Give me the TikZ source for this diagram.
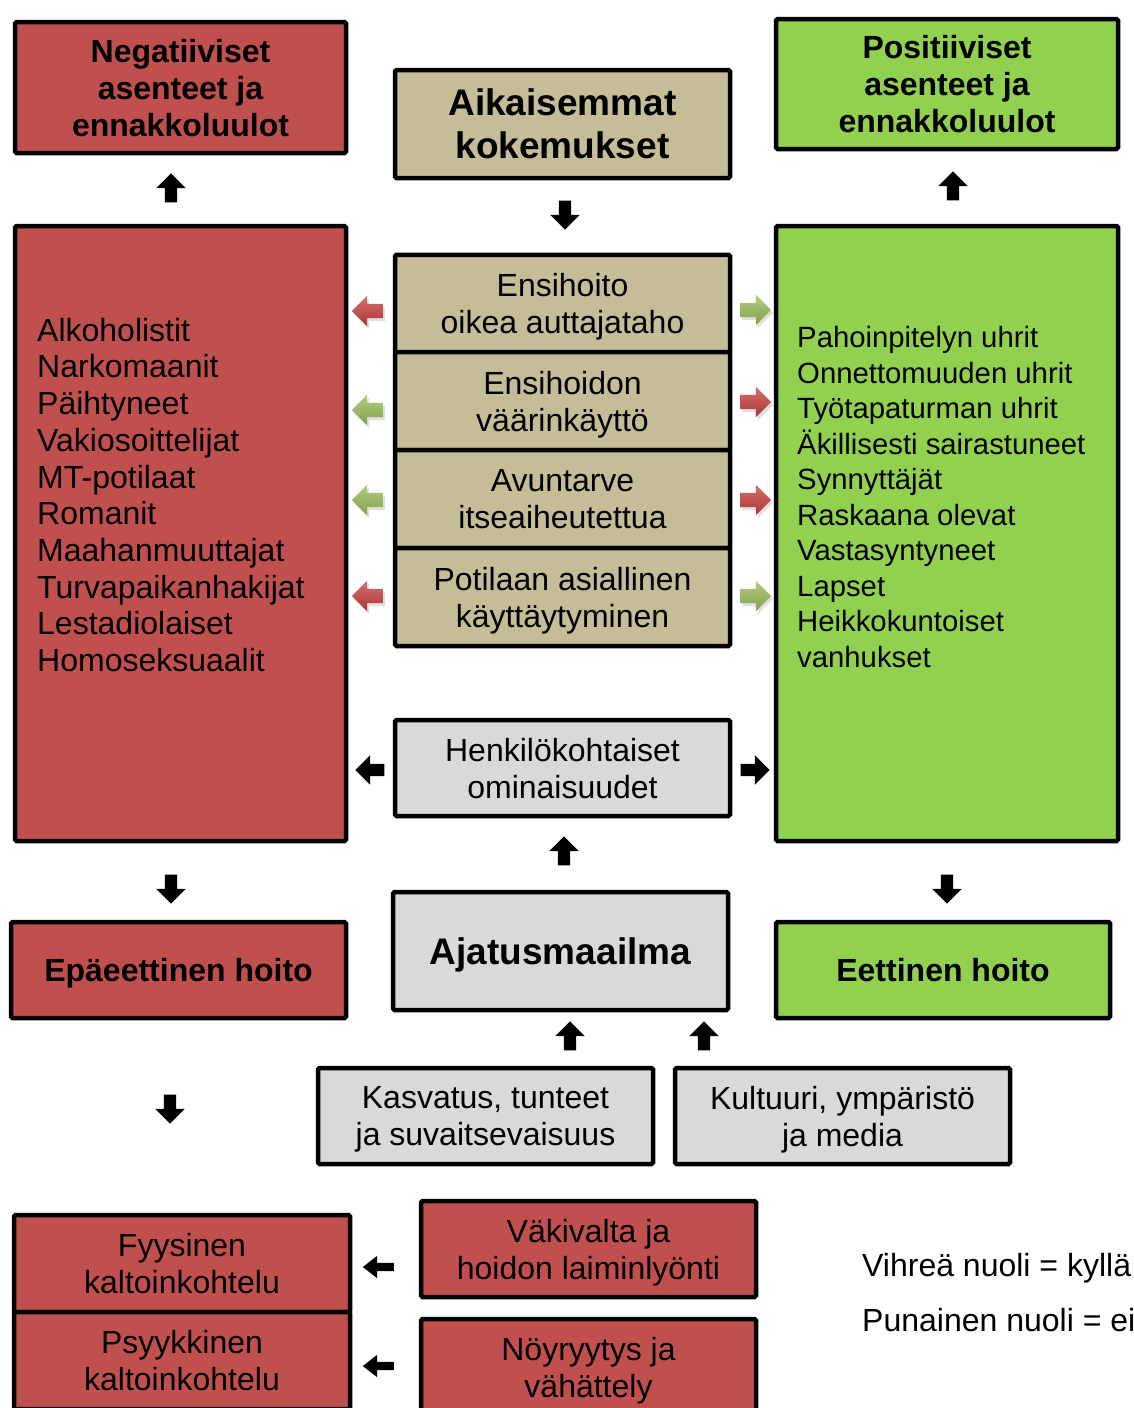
\documentclass[tikz,border=0pt]{standalone}
\usepackage{fontspec}
\setmainfont{Liberation Sans}
\usetikzlibrary{shapes.arrows,shadows}
\definecolor{punainen}{HTML}{C0504D}
\definecolor{vihrea}{HTML}{92D050}
\definecolor{beige}{HTML}{C4BD97}
\definecolor{harmaa}{HTML}{D9D9D9}
\definecolor{arrpun}{HTML}{C8403C}
\definecolor{arrvih}{HTML}{9BBB59}
\begin{document}
\begin{tikzpicture}[x=1pt, y=-1pt,
	box/.style={draw=black, line width=4.5pt, rounded corners=1.5pt, inner sep=0pt,
		align=center, text depth=0pt, font=\fontsize{32}{37}\selectfont},
	otsikko/.style={box, font=\bfseries\fontsize{32}{37}\selectfont},
	iso/.style={box, font=\bfseries\fontsize{37}{43}\selectfont},
	lista/.style={inner sep=0pt, align=left, anchor=west},
	blk/.style={single arrow, fill=black, inner sep=6pt, minimum height=29pt,
		single arrow head extend=8.5pt},
	pieni/.style={blk, inner sep=4pt, minimum height=31pt,
		single arrow head extend=7pt, single arrow tip angle=76},
	col/.style={single arrow, inner sep=7pt, minimum height=31pt,
		single arrow head extend=8pt, top color=#1!75!white, bottom color=#1!85!black,
		drop shadow={opacity=0.25, shadow xshift=2pt, shadow yshift=-3pt}}]
	\useasboundingbox (0, 0) rectangle (1133, 1408);
	\clip (0, 0) rectangle (1133, 1408);

	\node[otsikko, fill=punainen, minimum width=331pt, minimum height=131pt] (neg) at (180.5, 87.5)
	{Negatiiviset\\asenteet ja\\ennakkoluulot};
	\node[iso, fill=beige, minimum width=335pt, minimum height=108pt] (aik) at (562.5, 124)
	{Aikaisemmat\\kokemukset};
	\node[otsikko, fill=vihrea, minimum width=342pt, minimum height=130pt] (pos) at (947, 84)
	{Positiiviset\\asenteet ja\\ennakkoluulot};

	\node[box, fill=punainen, minimum width=331pt, minimum height=615pt] (vas) at (180.5, 533.5) {};
	\node[box, fill=vihrea, minimum width=342pt, minimum height=615pt] (oik) at (947, 533.5) {};
	\node[lista, font=\fontsize{32}{36.7}\selectfont] (vaslista) at (37, 495)
	{Alkoholistit\\Narkomaanit\\Päihtyneet\\Vakiosoittelijat\\MT-potilaat\\Romanit\\
		Maahanmuuttajat\\Turvapaikanhakijat\\Lestadiolaiset\\Homoseksuaalit};
	\node[lista, font=\fontsize{29.3}{35.5}\selectfont] (oiklista) at (797, 497)
	{Pahoinpitelyn uhrit\\Onnettomuuden uhrit\\Työtapaturman uhrit\\Äkillisesti sairastuneet\\
		Synnyttäjät\\Raskaana olevat\\Vastasyntyneet\\Lapset\\Heikkokuntoiset\\vanhukset};

	\node[box, fill=beige, minimum width=335pt, minimum height=97.5pt] (k1) at (562.5, 303.5)
	{Ensihoito\\oikea auttajataho};
	\node[box, fill=beige, minimum width=335pt, minimum height=98pt] (k2) at (562.5, 401)
	{Ensihoidon\\väärinkäyttö};
	\node[box, fill=beige, minimum width=335pt, minimum height=98pt] (k3) at (562.5, 499)
	{Avuntarve\\itseaiheutettua};
	\node[box, fill=beige, minimum width=335pt, minimum height=98pt] (k4) at (562.5, 597)
	{Potilaan asiallinen\\käyttäytyminen};

	\node[box, fill=harmaa, minimum width=335pt, minimum height=96pt] (henk) at (562.5, 768)
	{Henkilökohtaiset\\ominaisuudet};
	\node[otsikko, fill=punainen, minimum width=335pt, minimum height=96pt] (epa) at (178.5, 970)
	{Epäeettinen hoito};
	\node[iso, fill=harmaa, minimum width=335pt, minimum height=118pt] (ajat) at (560.5, 951)
	{Ajatusmaailma};
	\node[otsikko, fill=vihrea, minimum width=334pt, minimum height=96pt] (eet) at (943, 970)
	{Eettinen hoito};
	\node[box, fill=harmaa, minimum width=335pt, minimum height=96pt] (kasv) at (485.5, 1116)
	{Kasvatus, tunteet\\ja suvaitsevaisuus};
	\node[box, fill=harmaa, minimum width=335pt, minimum height=96pt] (kult) at (842.5, 1116)
	{Kultuuri, ympäristö\\ja media};

	\node[box, fill=punainen, minimum width=336pt, minimum height=97pt] (fyys) at (182, 1263.5)
	{Fyysinen\\kaltoinkohtelu};
	\node[box, fill=punainen, minimum width=336pt, minimum height=97pt] (psyk) at (182, 1360.5)
	{Psyykkinen\\kaltoinkohtelu};
	\node[box, fill=punainen, minimum width=335pt, minimum height=96pt] (vak) at (588.5, 1249)
	{Väkivalta ja\\hoidon laiminlyönti};
	\node[box, fill=punainen, minimum width=335pt, minimum height=96pt] (noy) at (588.5, 1367)
	{Nöyryytys ja\\vähättely};

	\foreach \x/\y [count=\i] in {171/191, 953/189, 564/854, 570/1039, 704/1039}
	\node[blk, shape border rotate=90] (ylos\i) at (\x, \y) {};
	\foreach \x/\y [count=\i] in {565/212, 171/886, 947/886, 170/1106}
	\node[blk, shape border rotate=270] (alas\i) at (\x, \y) {};
	\node[blk, shape border rotate=180] (vasen) at (373, 770) {};
	\node[blk] (oikea) at (752, 770) {};
	\node[pieni, shape border rotate=180] (fnuoli) at (381, 1267) {};
	\node[pieni, shape border rotate=180] (pnuoli) at (381, 1366) {};

	\foreach \y/\c [count=\i] in {311/arrpun, 410/arrvih, 500/arrvih, 596/arrpun}
	\node[col=\c, shape border rotate=180] (vn\i) at (371, \y) {};
	\foreach \y/\c [count=\i] in {310/arrvih, 402/arrpun, 500/arrpun, 596/arrvih}
	\node[col=\c] (on\i) at (752, \y) {};

	\node[inner sep=0pt, anchor=base west, font=\fontsize{32}{37}\selectfont] (vihr) at (862, 1276)
	{Vihreä nuoli = kyllä};
	\node[inner sep=0pt, anchor=base west, font=\fontsize{32}{37}\selectfont] (puna) at (862, 1331)
	{Punainen nuoli = ei};
\end{tikzpicture}
\end{document}
